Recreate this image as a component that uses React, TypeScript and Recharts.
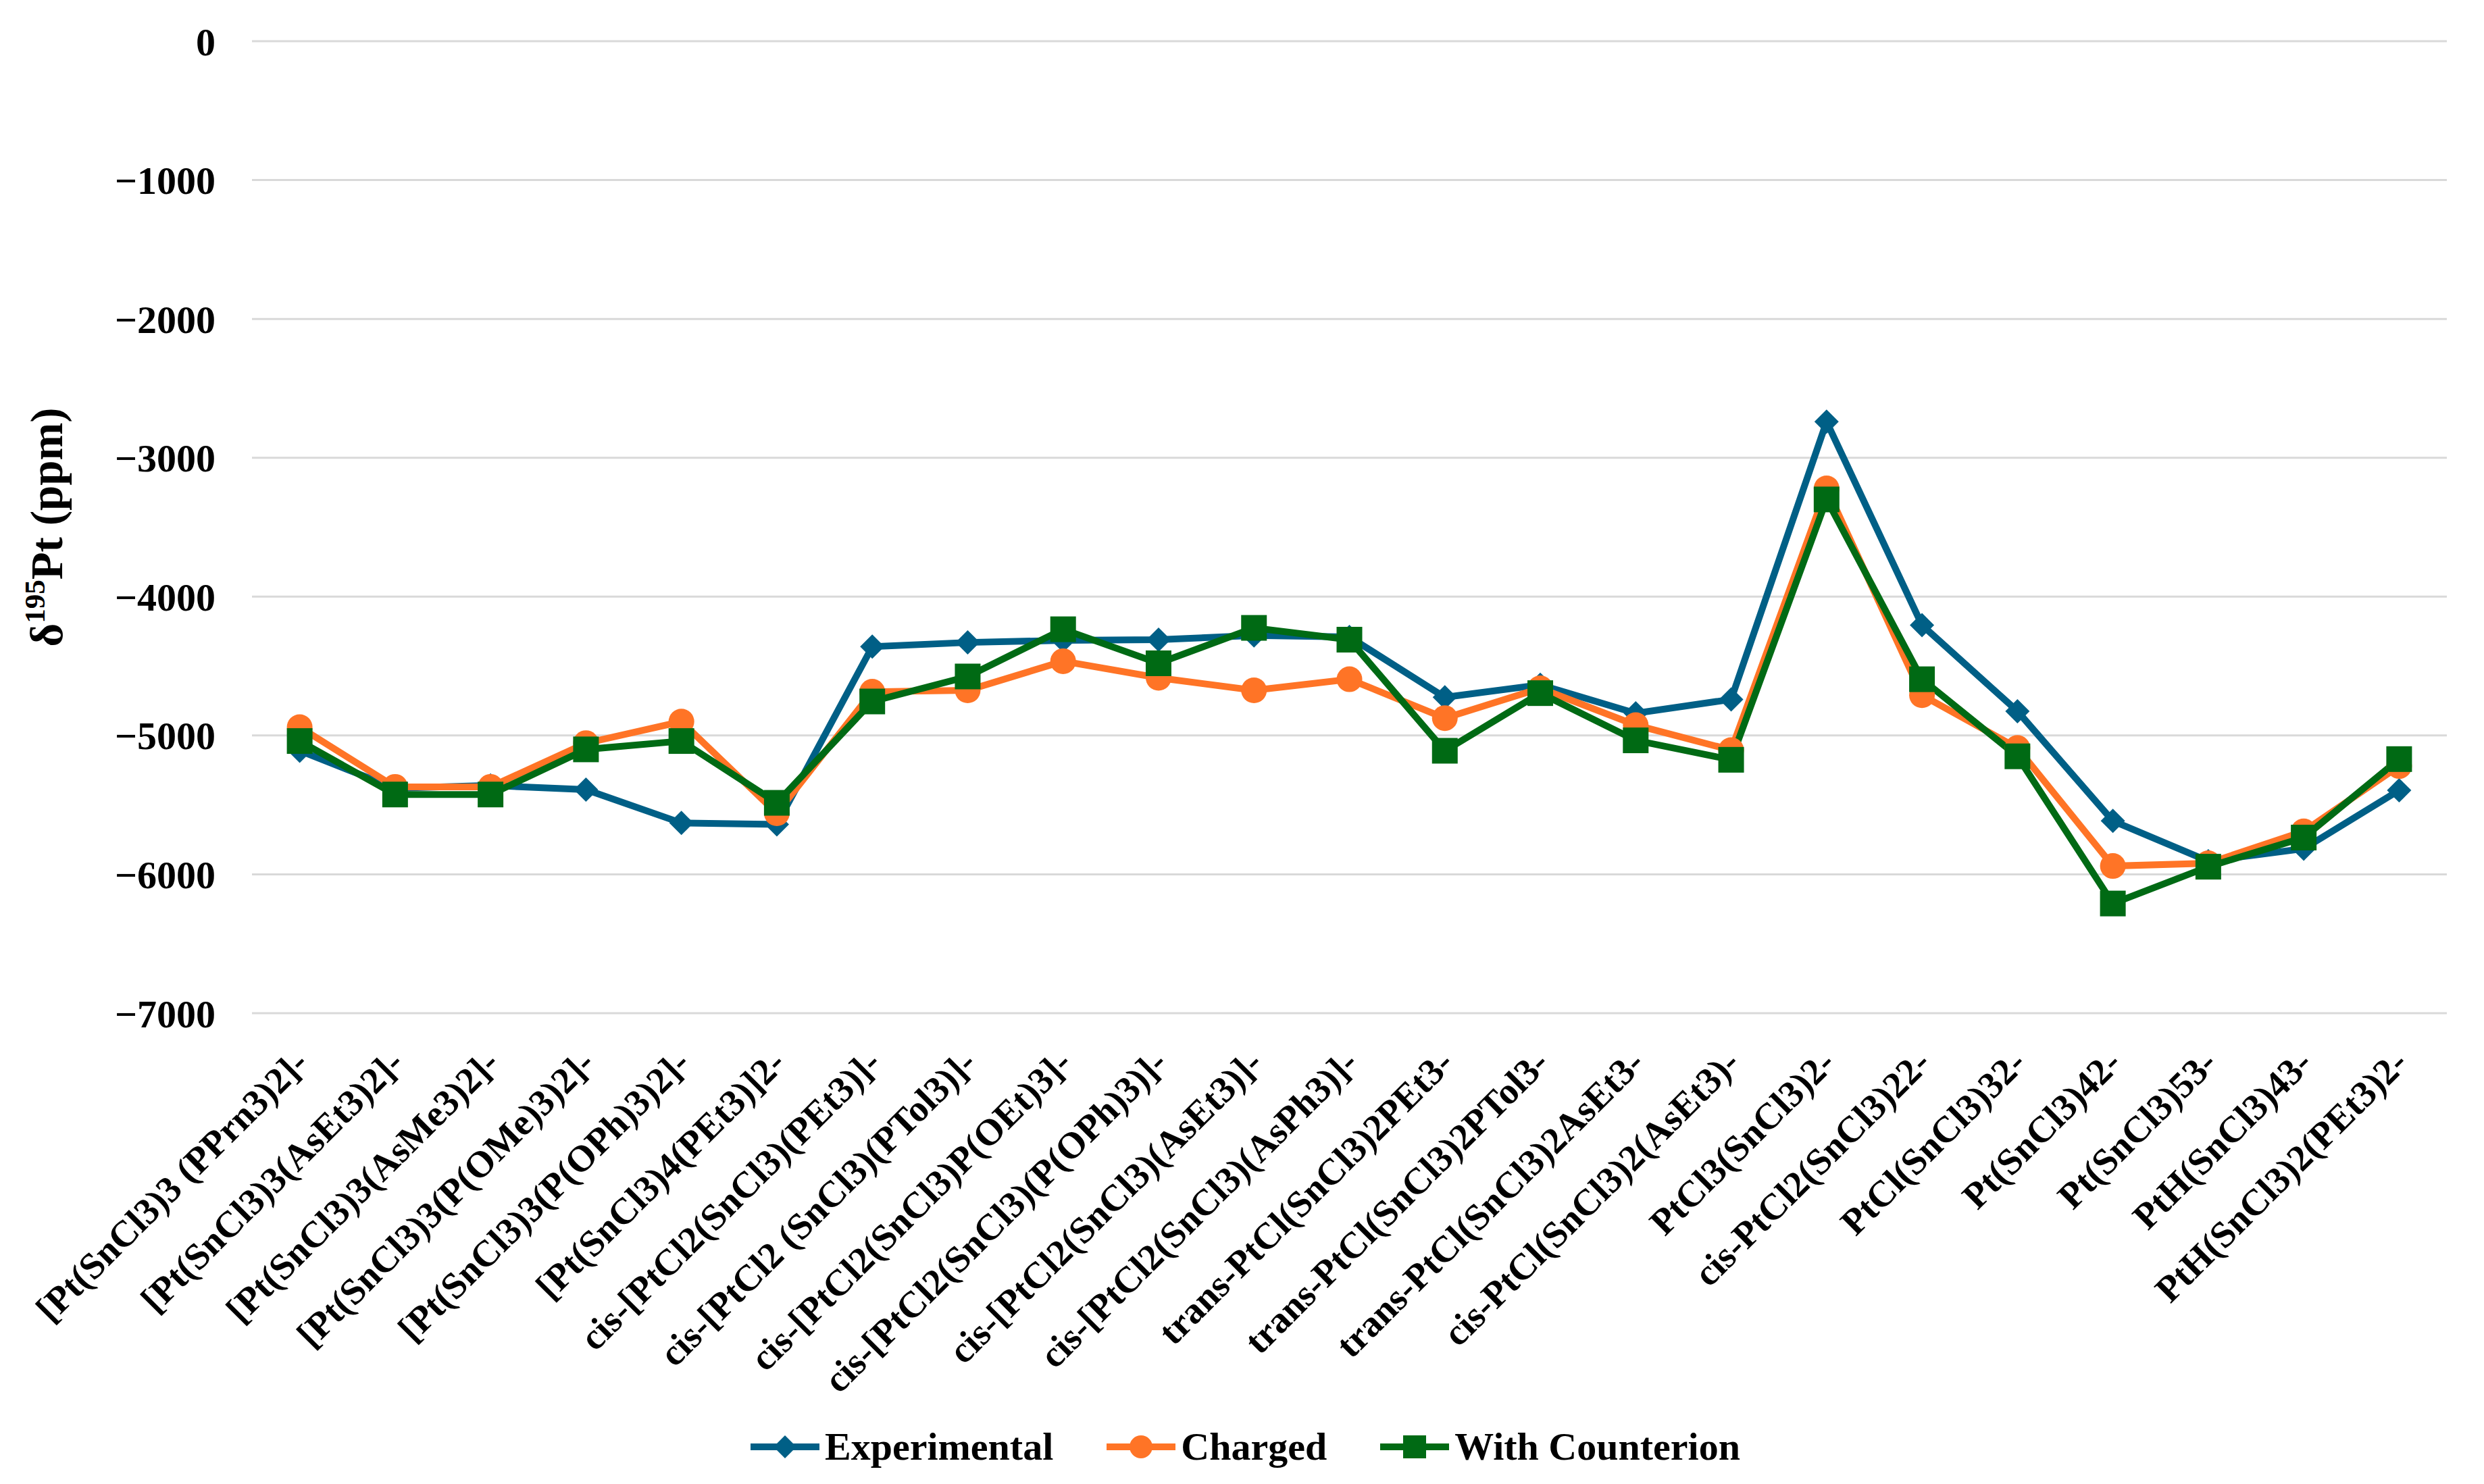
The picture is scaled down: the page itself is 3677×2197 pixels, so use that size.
import React from "react";
import { LineChart, Line, XAxis, YAxis, CartesianGrid, Legend } from "recharts";

const categories: string[] = [
  "[Pt(SnCl3)3 (PPrn3)2]-",
  "[Pt(SnCl3)3(AsEt3)2]-",
  "[Pt(SnCl3)3(AsMe3)2]-",
  "[Pt(SnCl3)3(P(OMe)3)2]-",
  "[Pt(SnCl3)3(P(OPh)3)2]-",
  "[Pt(SnCl3)4(PEt3)]2-",
  "cis-[PtCl2(SnCl3)(PEt3)]-",
  "cis-[PtCl2 (SnCl3)(PTol3)]-",
  "cis-[PtCl2(SnCl3)P(OEt)3]-",
  "cis-[PtCl2(SnCl3)(P(OPh)3)]-",
  "cis-[PtCl2(SnCl3)(AsEt3)]-",
  "cis-[PtCl2(SnCl3)(AsPh3)]-",
  "trans-PtCl(SnCl3)2PEt3-",
  "trans-PtCl(SnCl3)2PTol3-",
  "trans-PtCl(SnCl3)2AsEt3-",
  "cis-PtCl(SnCl3)2(AsEt3)-",
  "PtCl3(SnCl3)2-",
  "cis-PtCl2(SnCl3)22-",
  "PtCl(SnCl3)32-",
  "Pt(SnCl3)42-",
  "Pt(SnCl3)53-",
  "PtH(SnCl3)43-",
  "PtH(SnCl3)2(PEt3)2-",
];

const experimental: number[] = [
  -5110, -5380, -5360, -5390, -5630, -5640, -4360, -4330, -4315, -4310, -4280, -4290,
  -4725, -4635, -4840, -4740, -2740, -4205, -4825, -5615, -5905, -5815, -5395,
];

const charged: number[] = [
  -4940, -5370, -5370, -5055, -4900, -5560, -4685, -4675, -4465, -4585, -4675, -4595,
  -4875, -4660, -4925, -5105, -3220, -4710, -5090, -5940, -5920, -5690, -5220,
];

const withCounterion: number[] = [
  -5040, -5425, -5425, -5100, -5040, -5485, -4755, -4575, -4235, -4480, -4225, -4310,
  -5110, -4695, -5035, -5175, -3300, -4595, -5150, -6210, -5945, -5735, -5170,
];

const yTicks: number[] = [0, -1000, -2000, -3000, -4000, -5000, -6000, -7000];

const data = categories.map((name, i) => ({
  name,
  experimental: experimental[i],
  charged: charged[i],
  counterion: withCounterion[i],
}));

const FONT = "'Liberation Serif', 'Times New Roman', serif";
const BLUE = "#005F86";
const ORANGE = "#FF7426";
const GREEN = "#006A14";

const fmt = (v: number) => (v < 0 ? "\u2212" + Math.abs(v) : String(v));

const DiamondDot = (props: any) => {
  const { cx, cy, index } = props;
  if (cx == null || cy == null) return <g key={"d" + index} />;
  const r = 18;
  return (
    <polygon
      key={"d" + index}
      points={`${cx},${cy - r} ${cx + r},${cy} ${cx},${cy + r} ${cx - r},${cy}`}
      fill={BLUE}
    />
  );
};

const CircleDot = (props: any) => {
  const { cx, cy, index } = props;
  if (cx == null || cy == null) return <g key={"c" + index} />;
  return <circle key={"c" + index} cx={cx} cy={cy} r={19} fill={ORANGE} />;
};

const SquareDot = (props: any) => {
  const { cx, cy, index } = props;
  if (cx == null || cy == null) return <g key={"s" + index} />;
  const h = 19;
  return <rect key={"s" + index} x={cx - h} y={cy - h} width={2 * h} height={2 * h} fill={GREEN} />;
};

const XTick = (props: any) => {
  const { x, y, payload } = props;
  return (
    <g transform={`translate(${x + 4},${y})`}>
      <text
        x={0}
        y={0}
        dy="0.3em"
        transform="rotate(-45)"
        textAnchor="end"
        fontFamily={FONT}
        fontWeight="bold"
        fontSize={55}
        fill="#000"
      >
        {payload.value}
      </text>
    </g>
  );
};

const YLabel = (props: any) => {
  const { viewBox } = props;
  const x = viewBox.x + 92;
  const y = viewBox.y + viewBox.height / 2;
  return (
    <text
      x={x}
      y={y}
      transform={`rotate(-90, ${x}, ${y})`}
      textAnchor="middle"
      fontFamily={FONT}
      fontWeight="bold"
      fontSize={67}
      fill="#000"
    >
      <tspan>δ</tspan>
      <tspan dy={-26} fontSize={43}>195</tspan>
      <tspan dy={26}>Pt (ppm)</tspan>
    </text>
  );
};

const legendItems = [
  { label: "Experimental", color: BLUE, shape: "diamond" },
  { label: "Charged", color: ORANGE, shape: "circle" },
  { label: "With Counterion", color: GREEN, shape: "square" },
];

const LegendIcon = ({ color, shape }: { color: string; shape: string }) => (
  <svg width={102} height={44} style={{ display: "block" }}>
    <line x1={0} y1={22} x2={102} y2={22} stroke={color} strokeWidth={10} />
    {shape === "diamond" && <polygon points="51,5 68,22 51,39 34,22" fill={color} />}
    {shape === "circle" && <circle cx={51} cy={22} r={17} fill={color} />}
    {shape === "square" && <rect x={34} y={5} width={34} height={34} fill={color} />}
  </svg>
);

const renderLegend = () => (
  <div style={{ display: "flex", alignItems: "center" }}>
    {legendItems.map((it, i) => (
      <div
        key={it.label}
        style={{ display: "flex", alignItems: "center", marginRight: i < legendItems.length - 1 ? 79 : 0 }}
      >
        <LegendIcon color={it.color} shape={it.shape} />
        <span
          style={{
            fontFamily: FONT,
            fontWeight: "bold",
            fontSize: 58,
            color: "#000",
            marginLeft: 8,
            lineHeight: "70px",
          }}
        >
          {it.label}
        </span>
      </div>
    ))}
  </div>
);

export default function App() {
  return (
    <div style={{ position: "absolute", left: 0, top: 0, width: 3677, height: 2197, background: "#fff" }}>
      <LineChart
        width={3677}
        height={2197}
        data={data}
        margin={{ top: 61, right: 55, bottom: 0, left: 0 }}
      >
        <CartesianGrid horizontal vertical={false} stroke="#d9d9d9" strokeWidth={3} />
        <XAxis
          dataKey="name"
          type="category"
          interval={0}
          axisLine={false}
          tickLine={false}
          tickSize={0}
          tickMargin={65}
          height={697}
          padding={{ left: 70.6, right: 70.6 }}
          tick={<XTick />}
        />
        <YAxis
          type="number"
          domain={[-7000, 0]}
          ticks={yTicks}
          interval={0}
          width={373}
          axisLine={false}
          tickLine={false}
          tickSize={0}
          tickMargin={54}
          tickFormatter={fmt}
          tick={{ fontFamily: FONT, fontWeight: "bold", fontSize: 58, fill: "#000" }}
          label={<YLabel />}
        />
        <Legend
          verticalAlign="middle"
          align="center"
          content={renderLegend}
          wrapperStyle={{ top: 2107, left: 1111, width: 1600, height: 70 }}
        />
        <Line
          dataKey="experimental"
          name="Experimental"
          stroke={BLUE}
          strokeWidth={10}
          dot={DiamondDot}
          activeDot={false}
          isAnimationActive={false}
        />
        <Line
          dataKey="charged"
          name="Charged"
          stroke={ORANGE}
          strokeWidth={10}
          dot={CircleDot}
          activeDot={false}
          isAnimationActive={false}
        />
        <Line
          dataKey="counterion"
          name="With Counterion"
          stroke={GREEN}
          strokeWidth={10}
          dot={SquareDot}
          activeDot={false}
          isAnimationActive={false}
        />
      </LineChart>
    </div>
  );
}
